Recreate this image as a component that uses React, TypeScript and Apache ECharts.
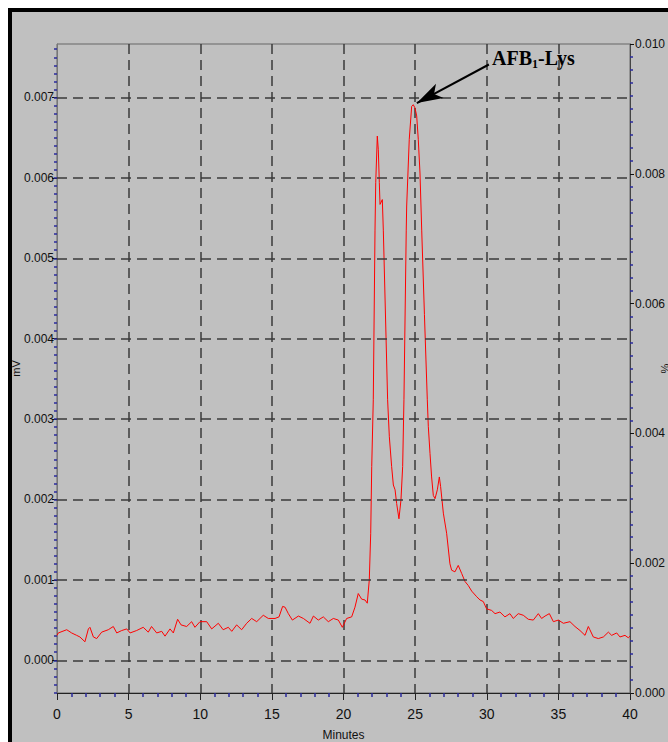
import React, { useEffect, useRef } from "react";
import * as echarts from "echarts";

// Retention time (minutes)
const times = [
  0.0, 0.09, 0.68, 1.02, 1.37, 1.6, 1.95, 2.19, 2.3, 2.54, 2.77, 3.12, 3.58, 3.93, 4.17, 4.52, 4.87,
  5.1, 5.56, 6.02, 6.37, 6.6, 6.96, 7.31, 7.54, 7.89, 8.12, 8.42, 8.66, 9.05, 9.4, 9.63, 9.98,
  10.45, 10.8, 11.26, 11.6, 11.96, 12.2, 12.54, 12.89, 13.24, 13.59, 13.94, 14.4, 14.75,
  15.22, 15.5, 15.75, 15.92, 16.15, 16.43, 16.85, 17.2, 17.66, 17.9, 18.24, 18.59, 18.94, 19.29, 19.64, 19.92,
  20.22, 20.57, 20.8, 21.03, 21.27, 21.5, 21.66, 21.8, 21.9, 21.97, 22.08, 22.2, 22.25, 22.36, 22.43, 22.5,
  22.55, 22.71, 22.78, 23.08, 23.2, 23.36, 23.48, 23.6, 23.71, 23.87, 24.01, 24.13, 24.22, 24.38, 24.41,
  24.59, 24.76, 24.87, 24.99, 25.11, 25.22, 25.34, 25.46, 25.65, 25.85, 25.92, 26.04, 26.15, 26.27, 26.39,
  26.55, 26.69, 26.78, 26.97, 27.2, 27.43, 27.55, 27.78, 28.01, 28.25, 28.48, 28.71, 28.95, 29.3, 29.53,
  29.76, 29.99, 30.34, 30.58, 30.92, 31.27, 31.62, 31.85, 32.2, 32.55, 32.9, 33.25, 33.6, 33.83, 34.07,
  34.37, 34.65, 35.0, 35.35, 35.81, 36.16, 36.51, 36.86, 37.09, 37.2, 37.44, 37.79, 38.14, 38.49, 38.72,
  39.07, 39.3, 39.65, 39.88, 40.0,
];

// Detector signal (mV)
const signal = [
  0.00031, 0.00034, 0.00038, 0.00034, 0.00031, 0.00029, 0.00023, 0.00039, 0.00041, 0.00029, 0.00027, 0.00035, 0.00038, 0.00042, 0.00034, 0.00037, 0.00039,
  0.00034, 0.00037, 0.00041, 0.00035, 0.00042, 0.00034, 0.00036, 0.0003, 0.00039, 0.00034, 0.00051, 0.00044, 0.00042, 0.00048, 0.00041, 0.00048,
  0.00048, 0.00039, 0.00046, 0.00038, 0.00041, 0.00036, 0.00044, 0.00038, 0.00046, 0.00052, 0.00048, 0.00056, 0.00052,
  0.00052, 0.00054, 0.00067, 0.00066, 0.00058, 0.0005, 0.00055, 0.00052, 0.00046, 0.00055, 0.0005, 0.00054, 0.00048, 0.00052, 0.0005, 0.00041,
  0.00052, 0.00054, 0.00066, 0.00083, 0.00076, 0.00075, 0.00071, 0.001, 0.00158, 0.00241, 0.00324, 0.00535, 0.00594, 0.00652, 0.00635, 0.00594,
  0.00567, 0.00573, 0.00535, 0.00324, 0.00278, 0.00241, 0.00218, 0.00212, 0.00195, 0.00176, 0.00199, 0.00241, 0.00324, 0.00535, 0.00565,
  0.00648, 0.00689, 0.00691, 0.00687, 0.00677, 0.00648, 0.00606, 0.00535, 0.0043, 0.00324, 0.00291, 0.00257, 0.00228, 0.00205, 0.00201,
  0.00212, 0.00228, 0.00216, 0.00183, 0.00158, 0.0012, 0.00112, 0.0011, 0.00118, 0.00108, 0.00098, 0.00093, 0.00086, 0.00079, 0.00075,
  0.00073, 0.00064, 0.00062, 0.00058, 0.0006, 0.00054, 0.00058, 0.00052, 0.00058, 0.00056, 0.00051, 0.0005, 0.00058, 0.00052, 0.00055,
  0.00058, 0.00048, 0.0005, 0.00046, 0.00048, 0.00042, 0.00037, 0.00031, 0.00042, 0.00038, 0.00029, 0.00027, 0.00029, 0.00035, 0.00031,
  0.00034, 0.00029, 0.00031, 0.00028, 0.0003,
];

// Left axis (mV) tick labels
const leftLabels = [0, 0.001, 0.002, 0.003, 0.004, 0.005, 0.006, 0.007];
const leftMin = -0.000407;
const leftMax = 0.007665;
// Right axis (%) range
const rightMin = 0;
const rightMax = 0.01;
const rightInterval = 0.002;
// X axis (minutes)
const xMin = 0;
const xMax = 40;
const xInterval = 5;

// Annotation
const arrowFrom = [30.15, 0.00741];
const arrowTo = [25.12, 0.00693];

const leftMinorTicks: number[] = [];
for (let i = -4; i <= 76; i++) leftMinorTicks.push(+(i * 0.0001).toFixed(4));

const FONT = "'Liberation Sans Narrow', 'Arial Narrow', 'Liberation Sans', Arial, sans-serif";
const BLUE = "#2a2a9c";
const GRID = { type: [10, 6] as number[], color: "#3a3a3a", width: 1.5 };

export default function App() {
  const ref = useRef<HTMLDivElement>(null);
  useEffect(() => {
    const chart = echarts.init(ref.current!, null, { renderer: "svg" });
    const data = times.map((t, i) => [t, signal[i]]);
    chart.setOption({
      animation: false,
      backgroundColor: "transparent",
      grid: {
        left: 45,
        top: 32,
        width: 573,
        height: 649,
        containLabel: false,
        outerBoundsMode: "none",
        show: true,
        borderColor: "#666",
        borderWidth: 1,
        backgroundColor: "transparent",
      },
      xAxis: {
        type: "value",
        min: xMin,
        max: xMax,
        interval: xInterval,
        name: "Minutes",
        nameLocation: "middle",
        nameGap: 36,
        nameMoveOverlap: false,
        nameTextStyle: { fontFamily: FONT, fontSize: 12, color: "#111" },
        axisLine: { show: true, onZero: false, lineStyle: { color: "#222", width: 1 } },
        axisTick: { show: true, length: 7, lineStyle: { color: "#222", width: 1 } },
        minorTick: { show: true, splitNumber: 5, length: 4, lineStyle: { color: BLUE, width: 1.5 } },
        axisLabel: { margin: 14, fontSize: 14, color: "#111", fontFamily: FONT },
        splitLine: { show: true, showMinLine: false, showMaxLine: false, lineStyle: GRID },
      },
      yAxis: [
        {
          type: "value",
          position: "left",
          min: leftMin,
          max: leftMax,
          name: "mV",
          nameLocation: "middle",
          nameGap: 36,
          nameMoveOverlap: false,
          nameRotate: 90,
          nameTextStyle: { fontFamily: FONT, fontSize: 11, color: "#111" },
          axisLine: { show: true, onZero: false, lineStyle: { color: "#777", width: 1 } },
          axisTick: { show: true, customValues: leftLabels, length: 5, lineStyle: { color: "#111", width: 1 } },
          axisLabel: {
            customValues: leftLabels,
            formatter: (v: number) => v.toFixed(3),
            margin: 3,
            fontSize: 12,
            color: "#111",
            fontFamily: FONT,
          },
          splitLine: { show: false },
        },
        {
          type: "value",
          position: "right",
          min: rightMin,
          max: rightMax,
          interval: rightInterval,
          name: "%",
          nameLocation: "middle",
          nameGap: 29,
          nameMoveOverlap: false,
          nameRotate: 90,
          nameTextStyle: { fontFamily: FONT, fontSize: 11, color: "#111" },
          axisLine: { show: true, onZero: false, lineStyle: { color: "#444", width: 1 } },
          axisTick: { show: true, length: 4, lineStyle: { color: "#111", width: 1 } },
          minorTick: { show: true, splitNumber: 10, length: 3, lineStyle: { color: BLUE, width: 1.5 } },
          axisLabel: {
            formatter: (v: number) => v.toFixed(3),
            margin: 5,
            fontSize: 12,
            color: "#111",
            fontFamily: FONT,
          },
          splitLine: { show: false },
        },
        {
          type: "value",
          position: "left",
          min: leftMin,
          max: leftMax,
          axisLine: { show: false },
          axisTick: { show: true, customValues: leftMinorTicks, length: 3, lineStyle: { color: BLUE, width: 1.5 } },
          axisLabel: { show: false },
          splitLine: { show: false },
        },
      ],
      series: [
        {
          type: "line",
          xAxisIndex: 0,
          yAxisIndex: 0,
          data,
          showSymbol: false,
          symbol: "none",
          lineStyle: { color: "#ff0000", width: 1 },
          z: 3,
          markLine: {
            silent: true,
            animation: false,
            symbol: ["none", "none"],
            label: { show: false },
            emphasis: { disabled: true },
            data: [
              ...leftLabels.map((v) => [
                { coord: [xMin, v], lineStyle: GRID },
                { coord: [xMax, v], lineStyle: GRID },
              ]),
              [
                { coord: arrowFrom, symbol: "none", lineStyle: { color: "#000", width: 2, type: "solid" } },
                { coord: arrowTo, symbol: "arrow", symbolSize: [12, 26], lineStyle: { color: "#000", width: 2, type: "solid" } },
              ],
            ],
          },
        },
      ],
      graphic: [
        {
          type: "text",
          left: 480,
          top: 36,
          style: {
            text: "{a|AFB}{s|1}{a|-Lys}",
            rich: {
              a: { fontFamily: "'Liberation Serif', 'Times New Roman', serif", fontWeight: "bold", fontSize: 20, fill: "#000", lineHeight: 24 },
              s: { fontFamily: "'Liberation Serif', 'Times New Roman', serif", fontWeight: "bold", fontSize: 12, fill: "#000", verticalAlign: "bottom", lineHeight: 14, padding: [6, 0, 0, 0] },
            },
          },
        },
      ],
    });
    return () => chart.dispose();
  }, []);
  return (
    <div
      style={{
        position: "fixed",
        left: 8,
        top: 8,
        width: 660,
        height: 734,
        boxSizing: "border-box",
        borderLeft: "4px solid #000",
        borderTop: "4px solid #000",
        background: "#c0c0c0",
        overflow: "hidden",
      }}
    >
      <div ref={ref} style={{ width: 656, height: 730 }} />
    </div>
  );
}
